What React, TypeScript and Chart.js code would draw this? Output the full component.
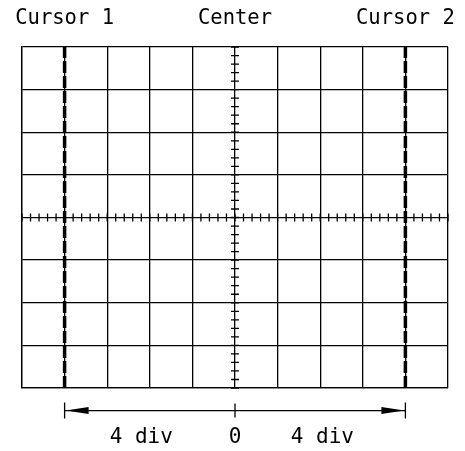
import React, { useEffect, useRef } from "react";
import { Chart, registerables } from "chart.js";

Chart.register(...registerables);

const xRange = [-5, 5];
const yRange = [-4, 4];
const cursorPositions = [-4, 4];
const topLabels = ["Cursor 1", "Center", "Cursor 2"];
const topLabelPositions = [-4, 0, 4];
const bottomLabels = ["4 div", "0", "4 div"];
const bottomLabelPositions = [-2.2, 0, 2.05];
const minorPerDiv = 5;
const arrowLevel = -4.53;

const FONT = "'DejaVu Sans Mono', monospace";

const graticulePlugin = {
  id: "graticule",
  afterDatasetsDraw(chart: any) {
    const ctx = chart.ctx;
    const xs = chart.scales.x;
    const ys = chart.scales.y;
    const cx = xs.getPixelForValue(0);
    const cy = ys.getPixelForValue(0);
    ctx.save();
    ctx.strokeStyle = "#000";
    ctx.lineWidth = 1.3;
    // minor ticks on center axes
    ctx.beginPath();
    for (let v = xRange[0]; v <= xRange[1] + 1e-9; v += 1 / minorPerDiv) {
      const px = xs.getPixelForValue(v);
      ctx.moveTo(px, cy - 4);
      ctx.lineTo(px, cy + 4);
    }
    for (let v = yRange[0]; v <= yRange[1] + 1e-9; v += 1 / minorPerDiv) {
      const py = ys.getPixelForValue(v);
      ctx.moveTo(cx - 4, py);
      ctx.lineTo(cx + 4, py);
    }
    ctx.stroke();

    // top labels
    ctx.fillStyle = "#000";
    ctx.font = `20.5px ${FONT}`;
    ctx.textAlign = "center";
    ctx.textBaseline = "middle";
    topLabels.forEach((t, i) => {
      ctx.fillText(t, xs.getPixelForValue(topLabelPositions[i]), 19);
    });

    // arrow
    const ay = ys.getPixelForValue(arrowLevel);
    const x1 = xs.getPixelForValue(cursorPositions[0]);
    const x2 = xs.getPixelForValue(cursorPositions[1]);
    ctx.lineWidth = 1.3;
    ctx.beginPath();
    ctx.moveTo(x1, ay);
    ctx.lineTo(x2, ay);
    ctx.moveTo(x1, ay - 8);
    ctx.lineTo(x1, ay + 8);
    ctx.moveTo(x2, ay - 8);
    ctx.lineTo(x2, ay + 8);
    ctx.moveTo(cx, ay - 7);
    ctx.lineTo(cx, ay + 7);
    ctx.stroke();
    ctx.beginPath();
    ctx.moveTo(x1 + 1, ay);
    ctx.lineTo(x1 + 24, ay - 3.5);
    ctx.lineTo(x1 + 24, ay + 3.5);
    ctx.closePath();
    ctx.moveTo(x2 - 1, ay);
    ctx.lineTo(x2 - 24, ay - 3.5);
    ctx.lineTo(x2 - 24, ay + 3.5);
    ctx.closePath();
    ctx.fill();

    // bottom labels
    ctx.font = `21px ${FONT}`;
    bottomLabels.forEach((t, i) => {
      ctx.fillText(t, xs.getPixelForValue(bottomLabelPositions[i]), 438);
    });
    ctx.restore();
  },
};

export default function App() {
  const ref = useRef<HTMLCanvasElement | null>(null);
  useEffect(() => {
    if (!ref.current) return;
    const chart = new Chart(ref.current, {
      type: "scatter",
      data: {
        datasets: cursorPositions.map((c) => ({
          type: "line" as const,
          data: [
            { x: c, y: yRange[0] },
            { x: c, y: yRange[1] },
          ],
          borderColor: "#000",
          borderWidth: 3.5,
          borderDash: [12, 3],
          pointRadius: 0,
          showLine: true,
          fill: false,
        })),
      },
      plugins: [graticulePlugin],
      options: {
        animation: false,
        responsive: false,
        maintainAspectRatio: false,
        layout: { padding: { left: 22, right: 17, top: 47, bottom: 63 } },
        plugins: { legend: { display: false }, tooltip: { enabled: false } },
        scales: {
          x: {
            type: "linear",
            min: xRange[0],
            max: xRange[1],
            ticks: { display: false, stepSize: 1 },
            grid: { color: "#000", lineWidth: 1.3, drawTicks: false },
            border: { color: "#000", width: 1.3 },
          },
          y: {
            type: "linear",
            min: yRange[0],
            max: yRange[1],
            ticks: { display: false, stepSize: 1 },
            grid: { color: "#000", lineWidth: 1.3, drawTicks: false },
            border: { color: "#000", width: 1.3 },
          },
        },
      },
    });
    return () => chart.destroy();
  }, []);
  return (
    <div style={{ position: "fixed", left: 0, top: 0, width: 465, height: 451, background: "#fff" }}>
      <canvas ref={ref} width={465} height={451} style={{ width: 465, height: 451 }} />
    </div>
  );
}
